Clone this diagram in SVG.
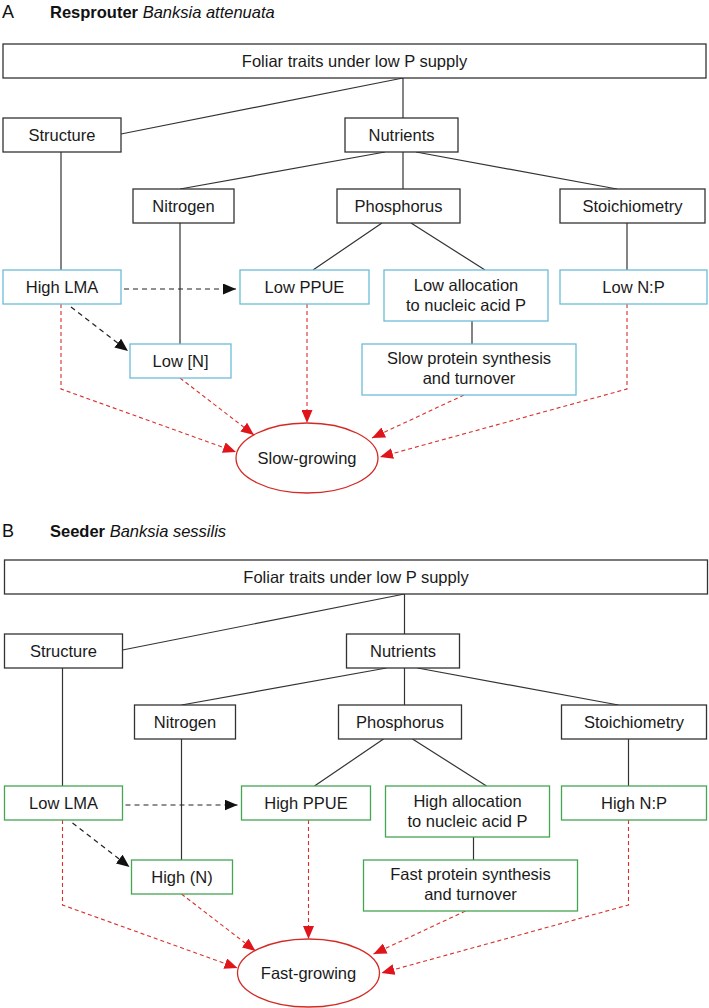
<svg xmlns="http://www.w3.org/2000/svg" width="709" height="1008" viewBox="0 0 709 1008">
<defs>
<style>
.t{font-family:"Liberation Sans",Arial,sans-serif;font-size:16.5px;fill:#1a1a1a;text-anchor:middle}
.hd{font-family:"Liberation Sans",Arial,sans-serif;font-size:16.5px;fill:#111}
.lab{font-family:"Liberation Sans",Arial,sans-serif;font-size:18px;fill:#111}
.bk{fill:#fff;stroke:#333;stroke-width:1.3}
.bl{fill:#fff;stroke:#6cbcd9;stroke-width:1.3}
.gr{fill:#fff;stroke:#44a552;stroke-width:1.3}
.el{fill:#fff;stroke:#d42a25;stroke-width:1.3}
.ln{fill:none;stroke:#333;stroke-width:1.2}
.da{fill:none;stroke:#222;stroke-width:1.2;stroke-dasharray:5 4;marker-end:url(#ab)}
.dr{fill:none;stroke:#d9302b;stroke-width:1.1;stroke-dasharray:4 3;marker-end:url(#ar)}
</style>
<marker id="ab" markerUnits="userSpaceOnUse" markerWidth="13" markerHeight="11" refX="13" refY="5.5" orient="auto"><path d="M0,0 L13,5.5 L0,11 z" fill="#111"/></marker>
<marker id="ar" markerUnits="userSpaceOnUse" markerWidth="13" markerHeight="11" refX="13" refY="5.5" orient="auto"><path d="M0,0 L13,5.5 L0,11 z" fill="#e0151b"/></marker>
</defs>
<rect width="709" height="1008" fill="#fff"/>

<g id="panelA">
<text class="lab" x="2" y="18">A</text>
<text class="hd" x="50" y="18"><tspan font-weight="bold">Resprouter</tspan> <tspan font-style="italic">Banksia attenuata</tspan></text>
<g id="A-connectors">
<path class="ln" d="M121,134 L403,78 M403,78 L403,118 M385,152 L180,189 M403,152 L403,189 M416,152 L617,189 M61,152 L61,270 M180,223 L180,344 M382,223 L313,270 M411,223 L485,270 M627,223 L627,270 M472,321 L472,344"/>
<path class="da" d="M124,289 L236,289"/>
<path class="da" d="M71,307 L128,351"/>
<path class="dr" d="M61,304 L61,389 L236,452"/>
<path class="dr" d="M180,378 L254,435"/>
<path class="dr" d="M307,304 L307,423"/>
<path class="dr" d="M464,395 L372,438"/>
<path class="dr" d="M627,304 L627,389 L380,457"/>
</g>
<g id="A-top"><rect class="bk" x="3" y="44" width="703" height="34"/><text class="t" x="354.5" y="67">Foliar traits under low P supply</text></g>
<g id="A-structure"><rect class="bk" x="3" y="118" width="118" height="34"/><text class="t" x="62" y="141">Structure</text></g>
<g id="A-nutrients"><rect class="bk" x="345" y="118" width="113" height="34"/><text class="t" x="401.5" y="141">Nutrients</text></g>
<g id="A-nitrogen"><rect class="bk" x="133" y="189" width="101" height="34"/><text class="t" x="183.5" y="212">Nitrogen</text></g>
<g id="A-phosphorus"><rect class="bk" x="337" y="189" width="123" height="34"/><text class="t" x="398.5" y="212">Phosphorus</text></g>
<g id="A-stoich"><rect class="bk" x="560" y="189" width="145" height="34"/><text class="t" x="632.5" y="212">Stoichiometry</text></g>
<g id="A-lma"><rect class="bl" x="3" y="270" width="118" height="34"/><text class="t" x="62" y="293">High LMA</text></g>
<g id="A-ppue"><rect class="bl" x="240" y="270" width="129" height="34"/><text class="t" x="304.5" y="293">Low PPUE</text></g>
<g id="A-alloc"><rect class="bl" x="384" y="270" width="164" height="51"/><text class="t" x="466" y="291">Low allocation</text><text class="t" x="466" y="311">to nucleic acid P</text></g>
<g id="A-np"><rect class="bl" x="560" y="270" width="147" height="34"/><text class="t" x="633.5" y="293">Low N:P</text></g>
<g id="A-n"><rect class="bl" x="130" y="344" width="101" height="34"/><text class="t" x="180.5" y="367">Low [N]</text></g>
<g id="A-protein"><rect class="bl" x="362" y="344" width="214" height="51"/><text class="t" x="469" y="364">Slow protein synthesis</text><text class="t" x="469" y="384">and turnover</text></g>
<g id="A-growth"><ellipse class="el" cx="307" cy="458" rx="71" ry="35"/><text class="t" x="307" y="464">Slow-growing</text></g>
</g>

<g id="panelB" transform="translate(1.5,516)">
<text class="lab" x="0.5" y="21">B</text>
<text class="hd" x="48.5" y="21"><tspan font-weight="bold">Seeder</tspan> <tspan font-style="italic">Banksia sessilis</tspan></text>
<g id="B-connectors">
<path class="ln" d="M121,134 L403,78 M403,78 L403,118 M385,152 L180,189 M403,152 L403,189 M416,152 L617,189 M61,152 L61,270 M180,223 L180,344 M382,223 L313,270 M411,223 L485,270 M627,223 L627,270 M472,321 L472,344"/>
<path class="da" d="M124,289 L236,289"/>
<path class="da" d="M71,307 L128,351"/>
<path class="dr" d="M61,304 L61,389 L236,452"/>
<path class="dr" d="M180,378 L254,435"/>
<path class="dr" d="M307,304 L307,423"/>
<path class="dr" d="M464,395 L372,438"/>
<path class="dr" d="M627,304 L627,389 L380,457"/>
</g>
<g id="B-top"><rect class="bk" x="3" y="44" width="703" height="34"/><text class="t" x="354.5" y="67">Foliar traits under low P supply</text></g>
<g id="B-structure"><rect class="bk" x="3" y="118" width="118" height="34"/><text class="t" x="62" y="141">Structure</text></g>
<g id="B-nutrients"><rect class="bk" x="345" y="118" width="113" height="34"/><text class="t" x="401.5" y="141">Nutrients</text></g>
<g id="B-nitrogen"><rect class="bk" x="133" y="189" width="101" height="34"/><text class="t" x="183.5" y="212">Nitrogen</text></g>
<g id="B-phosphorus"><rect class="bk" x="337" y="189" width="123" height="34"/><text class="t" x="398.5" y="212">Phosphorus</text></g>
<g id="B-stoich"><rect class="bk" x="560" y="189" width="145" height="34"/><text class="t" x="632.5" y="212">Stoichiometry</text></g>
<g id="B-lma"><rect class="gr" x="3" y="270" width="118" height="34"/><text class="t" x="62" y="293">Low LMA</text></g>
<g id="B-ppue"><rect class="gr" x="240" y="270" width="129" height="34"/><text class="t" x="304.5" y="293">High PPUE</text></g>
<g id="B-alloc"><rect class="gr" x="384" y="270" width="164" height="51"/><text class="t" x="466" y="291">High allocation</text><text class="t" x="466" y="311">to nucleic acid P</text></g>
<g id="B-np"><rect class="gr" x="560" y="270" width="145" height="34"/><text class="t" x="632.5" y="293">High N:P</text></g>
<g id="B-n"><rect class="gr" x="130" y="344" width="101" height="34"/><text class="t" x="180.5" y="367">High (N)</text></g>
<g id="B-protein"><rect class="gr" x="362" y="344" width="214" height="51"/><text class="t" x="469" y="364">Fast protein synthesis</text><text class="t" x="469" y="384">and turnover</text></g>
<g id="B-growth"><ellipse class="el" cx="307" cy="457" rx="71" ry="34"/><text class="t" x="307" y="463">Fast-growing</text></g>
</g>
</svg>
